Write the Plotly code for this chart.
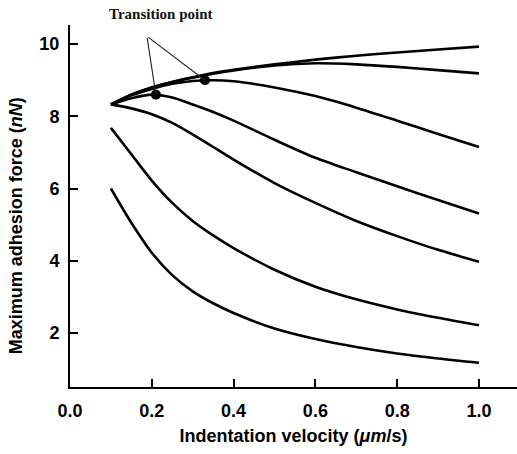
import plotly.graph_objects as go

velocity = [0.1, 0.15, 0.2, 0.25, 0.3, 0.35, 0.4, 0.5, 0.6, 0.7, 0.8, 0.9, 1.0]

force_1 = [8.33, 8.60, 8.80, 8.95, 9.08, 9.20, 9.29, 9.44, 9.57, 9.68, 9.77, 9.85, 9.93]
force_2 = [8.33, 8.60, 8.80, 8.95, 9.07, 9.18, 9.27, 9.41, 9.47, 9.44, 9.37, 9.28, 9.19]
force_3 = [8.33, 8.58, 8.76, 8.90, 8.98, 9.00, 8.97, 8.80, 8.56, 8.24, 7.88, 7.51, 7.15]
force_4 = [8.33, 8.50, 8.60, 8.52, 8.33, 8.12, 7.88, 7.35, 6.85, 6.45, 6.06, 5.68, 5.31]
force_5 = [8.33, 8.22, 8.06, 7.82, 7.50, 7.15, 6.80, 6.15, 5.60, 5.10, 4.68, 4.30, 3.97]
force_6 = [7.68, 6.95, 6.22, 5.60, 5.10, 4.70, 4.35, 3.75, 3.28, 2.93, 2.65, 2.42, 2.21]
force_7 = [6.00, 5.05, 4.22, 3.60, 3.15, 2.82, 2.55, 2.12, 1.83, 1.61, 1.43, 1.29, 1.17]

transition_x = [0.21, 0.33]
transition_y = [8.60, 9.00]
label_anchor = (0.188, 10.22)

x_ticks = [0.0, 0.2, 0.4, 0.6, 0.8, 1.0]
x_tick_text = ["0.0", "0.2", "0.4", "0.6", "0.8", "1.0"]
y_ticks = [2, 4, 6, 8, 10]
y_tick_text = ["2", "4", "6", "8", "10"]

FONT = "Liberation Sans, Arial, sans-serif"

fig = go.Figure()
for ys in [force_1, force_2, force_3, force_4, force_5, force_6, force_7]:
    fig.add_trace(go.Scatter(
        x=velocity, y=ys, mode="lines",
        line=dict(color="black", width=2.6, shape="spline", smoothing=0.8),
        showlegend=False, hoverinfo="skip"))

fig.add_trace(go.Scatter(
    x=transition_x, y=transition_y, mode="markers",
    marker=dict(color="black", size=10),
    showlegend=False, hoverinfo="skip"))

for tx, ty in zip(transition_x, transition_y):
    fig.add_annotation(
        x=tx, y=ty, ax=label_anchor[0], ay=label_anchor[1],
        xref="x", yref="y", axref="x", ayref="y",
        text="", showarrow=True, arrowhead=0, arrowwidth=1.1,
        arrowcolor="#222222", standoff=0, startstandoff=0)

fig.add_annotation(
    x=0.2036, y=1.03, xref="paper", yref="paper",
    xanchor="center", yanchor="middle",
    text="<b>Transition point</b>", showarrow=False,
    font=dict(family="Liberation Serif, Times New Roman, serif", size=15, color="#111111"))

fig.add_annotation(
    x=-0.12, y=0.445, xref="paper", yref="paper",
    xanchor="center", yanchor="middle", textangle=-90,
    text="Maximum adhesion force (<i>nN</i>)", showarrow=False,
    font=dict(family=FONT, size=18, weight="bold", color="black"))

fig.update_layout(
    width=517, height=454,
    margin=dict(l=70, r=0, t=25, b=67),
    paper_bgcolor="white", plot_bgcolor="white",
    font=dict(family=FONT, color="black"),
    xaxis=dict(
        range=[0, 1.093], showgrid=False, zeroline=False,
        showline=True, linecolor="black", linewidth=2,
        ticks="inside", ticklen=8, tickwidth=2, tickcolor="black",
        tickvals=x_ticks, ticktext=x_tick_text,
        tickfont=dict(family=FONT, size=18, weight="bold"),
        ticklabelstandoff=6,
        title=dict(text="Indentation velocity (<i>μm</i>/s)",
                   font=dict(family=FONT, size=18, weight="bold"), standoff=10),
    ),
    yaxis=dict(
        range=[0.5, 10.53], showgrid=False, zeroline=False,
        showline=True, linecolor="black", linewidth=2,
        ticks="inside", ticklen=8, tickwidth=2, tickcolor="black",
        tickvals=y_ticks, ticktext=y_tick_text,
        tickfont=dict(family=FONT, size=18, weight="bold"),
        ticklabelstandoff=5,
    ),
)

fig.write_html("out.html")
